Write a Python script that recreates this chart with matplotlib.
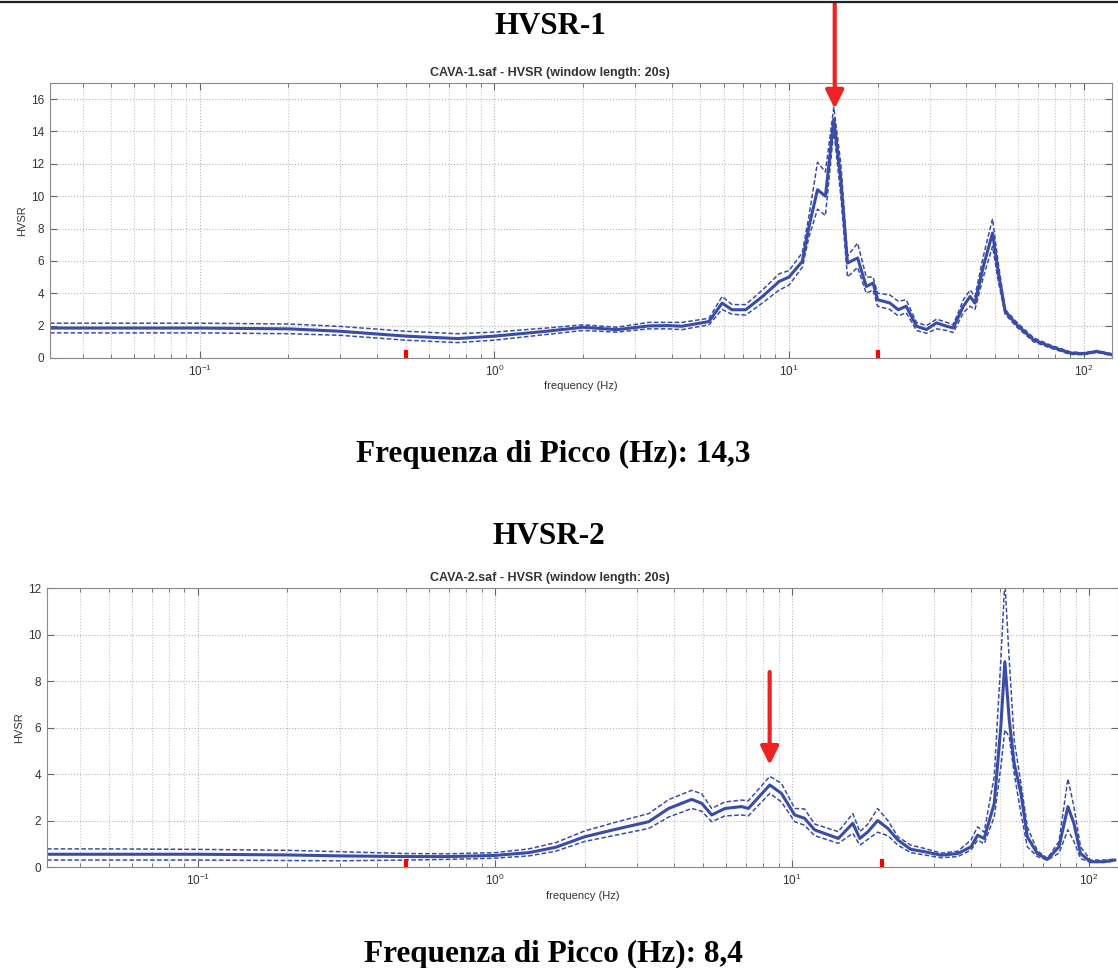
import matplotlib
matplotlib.use('Agg')
import matplotlib.pyplot as plt
from matplotlib.lines import Line2D
from matplotlib.ticker import LogLocator, NullFormatter

plt.rcParams['font.family'] = ['Liberation Sans', 'DejaVu Sans']

# HVSR-1 : frequenza (Hz), media, limite superiore e inferiore
f1 = [0.031, 0.05, 0.1, 0.2, 0.3, 0.5, 0.75, 1.0, 1.5, 2.0, 2.6, 3.34, 3.9, 4.33,
      5.35, 5.93, 6.41, 7.13, 8.13, 9.26, 10.0, 11.1, 11.7, 12.5, 13.3, 14.2, 15.0,
      15.8, 17.1, 18.3, 19.3, 20.0, 22.0, 23.5, 25.0, 27.1, 29.3, 31.7, 34.3, 36.1,
      39.1, 41.2, 42.8, 45.7, 49.1, 51.4, 54.2, 59.4, 67.7, 77.1, 90.2, 100, 111, 125]
m1 = [1.85, 1.85, 1.85, 1.8, 1.65, 1.35, 1.2, 1.35, 1.65, 1.9, 1.75, 1.98, 2.0, 1.96,
      2.25, 3.39, 2.98, 2.98, 3.8, 4.73, 5.0, 5.97, 8.14, 10.4, 10.0, 14.76, 11.0,
      5.87, 6.18, 4.42, 4.63, 3.6, 3.4, 2.98, 3.2, 1.96, 1.76, 2.17, 1.96, 1.86,
      3.2, 3.8, 3.39, 5.66, 7.72, 5.25, 2.88, 2.05, 1.12, 0.71, 0.3, 0.26, 0.4, 0.2]
u1 = [2.15, 2.15, 2.15, 2.1, 1.95, 1.65, 1.5, 1.6, 1.85, 2.05, 1.9, 2.2, 2.2, 2.2,
      2.45, 3.8, 3.3, 3.3, 4.2, 5.2, 5.4, 6.5, 8.8, 12.1, 11.5, 15.5, 12.0,
      6.3, 7.1, 5.0, 5.0, 4.0, 3.9, 3.5, 3.6, 2.2, 2.0, 2.4, 2.2, 2.05,
      3.6, 4.2, 3.8, 6.3, 8.6, 5.8, 3.0, 2.2, 1.25, 0.8, 0.38, 0.32, 0.46, 0.26]
l1 = [1.55, 1.55, 1.55, 1.5, 1.4, 1.1, 0.95, 1.1, 1.45, 1.7, 1.6, 1.8, 1.8, 1.75,
      2.05, 3.0, 2.7, 2.65, 3.4, 4.2, 4.5, 5.6, 7.5, 9.2, 8.8, 14.1, 10.0,
      5.0, 5.6, 4.0, 4.2, 3.2, 3.0, 2.6, 2.8, 1.7, 1.53, 1.8, 1.7, 1.57,
      2.8, 3.2, 3.0, 5.0, 6.9, 4.7, 2.7, 1.9, 1.0, 0.62, 0.22, 0.2, 0.34, 0.15]

# HVSR-2
f2 = [0.031, 0.05, 0.1, 0.2, 0.3, 0.5, 0.7, 1.0, 1.3, 1.6, 2.0, 2.5, 3.29, 3.84,
      4.59, 4.96, 5.36, 5.94, 6.76, 7.12, 8.41, 9.2, 10.2, 11.0, 11.9, 14.3, 16.0,
      16.9, 18.0, 19.4, 21.0, 22.7, 25.1, 27.9, 31.7, 36.1, 40.0, 42.1, 44.3, 47.9,
      50.4, 52.0, 53.8, 55.9, 58.9, 61.9, 66.9, 72.3, 79.1, 84.8, 88.8, 93.5, 101, 112, 122]
m2 = [0.55, 0.55, 0.55, 0.52, 0.48, 0.45, 0.45, 0.5, 0.62, 0.85, 1.3, 1.6, 1.95, 2.52,
      2.91, 2.74, 2.24, 2.52, 2.6, 2.52, 3.53, 3.17, 2.24, 2.1, 1.6, 1.23, 1.88,
      1.23, 1.52, 2.0, 1.66, 1.16, 0.76, 0.66, 0.51, 0.58, 0.87, 1.37, 1.23, 2.74,
      6.04, 8.83, 6.33, 4.46, 3.17, 1.3, 0.58, 0.33, 0.87, 2.6, 1.88, 0.58, 0.23, 0.23, 0.3]
u2 = [0.78, 0.78, 0.76, 0.72, 0.66, 0.58, 0.57, 0.62, 0.78, 1.05, 1.55, 1.9, 2.3, 2.9,
      3.3, 3.15, 2.52, 2.8, 2.88, 2.85, 3.9, 3.6, 2.52, 2.5, 1.85, 1.52, 2.3,
      1.52, 1.85, 2.52, 2.0, 1.3, 0.94, 0.8, 0.6, 0.68, 1.16, 1.73, 1.5, 3.9,
      8.9, 12.3, 8.9, 5.46, 3.6, 1.73, 0.7, 0.37, 1.1, 3.8, 2.6, 0.87, 0.3, 0.3, 0.34]
l2 = [0.3, 0.3, 0.3, 0.28, 0.27, 0.3, 0.33, 0.38, 0.48, 0.68, 1.1, 1.35, 1.66, 2.15,
      2.52, 2.4, 1.95, 2.2, 2.24, 2.2, 3.17, 2.8, 1.95, 1.8, 1.35, 1.02, 1.45,
      0.94, 1.2, 1.5, 1.35, 0.94, 0.62, 0.52, 0.4, 0.45, 0.73, 1.16, 1.0, 2.16,
      4.3, 5.9, 5.6, 4.03, 2.3, 0.87, 0.45, 0.3, 0.6, 1.6, 1.1, 0.37, 0.2, 0.2, 0.26]

# limiti della finestra di frequenza (segni rossi) e picchi
limiti = [0.5, 20]
picco1 = 14.3
picco2 = 8.4

blu = '#3a4ca8'

fig = plt.figure(figsize=(11.18, 9.68), dpi=100)


def grafico(pos, f, m, u, l, ymax, yticks, titolo, x_titolo, picco, y_coda, y_punta):
    ax = fig.add_axes(pos)
    ax.set_xscale('log')
    ax.plot(f, u, color=blu, lw=1.1, dashes=(3, 1.5))
    ax.plot(f, l, color=blu, lw=1.1, dashes=(3, 1.5))
    ax.plot(f, m, color=blu, lw=2.2)
    for fl in limiti:
        ax.plot([fl, fl], [0, ymax * 0.028], color='red', lw=3, solid_capstyle='butt')
    ax.set_xlim(0.031, 125)
    ax.set_ylim(0, ymax)
    ax.set_yticks(yticks)
    ax.xaxis.set_major_locator(LogLocator(base=10))
    ax.xaxis.set_minor_locator(LogLocator(base=10, subs=range(2, 10)))
    ax.xaxis.set_minor_formatter(NullFormatter())
    ax.grid(True, which='major', linestyle=':', color='#b5b5b5', lw=0.8)
    ax.grid(True, which='minor', axis='x', linestyle=':', color='#c5c5c5', lw=0.8)
    ax.tick_params(which='both', direction='in', top=True, right=True,
                   labelsize=8.5, labelcolor='#333333', color='#666666', pad=4)
    ax.tick_params(which='major', length=5)
    ax.tick_params(which='minor', length=3)
    for s in ax.spines.values():
        s.set_color('#8a8a8a')
    ax.set_xlabel('frequency (Hz)', fontsize=8, color='#333333', labelpad=2)
    ax.set_ylabel('HVSR', fontsize=8, color='#333333', labelpad=3)
    ax.set_title(titolo, fontsize=9, fontweight='bold', color='#333333', pad=5,
                 x=x_titolo)
    ax.annotate('', xy=(picco, y_punta), xytext=(picco, y_coda), annotation_clip=False,
                arrowprops=dict(arrowstyle='-|>,head_length=0.55,head_width=0.27',
                                color='#ee2222', lw=3, mutation_scale=20,
                                shrinkA=0, shrinkB=0))
    return ax


grafico([0.0447, 0.6302, 0.950, 0.2841], f1, m1, u1, l1, 17, range(0, 17, 2),
        'CAVA-1.saf - HVSR (window length: 20s)', 0.471, picco1, 21.9, 15.4)
grafico([0.042, 0.1043, 0.958, 0.2882], f2, m2, u2, l2, 12, range(0, 13, 2),
        'CAVA-2.saf - HVSR (window length: 20s)', 0.47, picco2, 8.39, 4.39)

serif = ['Liberation Serif', 'DejaVu Serif']
fig.text(0.492, 0.965, 'HVSR-1', ha='center', va='baseline', fontsize=22.2,
         fontweight='bold', family=serif)
fig.text(0.495, 0.523, 'Frequenza di Picco (Hz): 14,3', ha='center', va='baseline',
         fontsize=22.5, fontweight='bold', family=serif)
fig.text(0.491, 0.4375, 'HVSR-2', ha='center', va='baseline', fontsize=22.5,
         fontweight='bold', family=serif)
fig.text(0.495, 0.006, 'Frequenza di Picco (Hz): 8,4', ha='center', va='baseline',
         fontsize=22.5, fontweight='bold', family=serif)

# riga in alto della pagina
fig.add_artist(Line2D([0, 1], [0.9975, 0.9975], color='#222222', lw=1.6))

fig.savefig('out.png', dpi=100)
